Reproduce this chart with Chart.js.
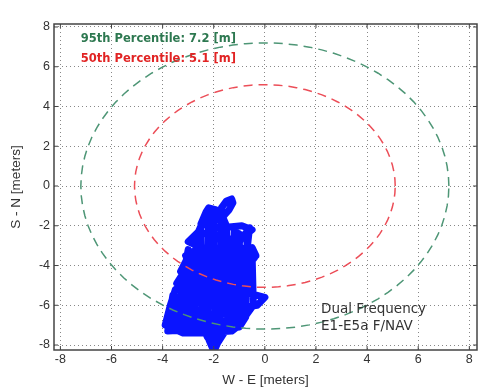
<!DOCTYPE html>
<html lang="en">
<head>
    <meta charset="UTF-8">
    <title>Horizontal position error</title>
    <script src="https://cdn.jsdelivr.net/npm/chart.js"></script>
    <style>
        body { margin: 0; background: #fff; }
        #wrap { width: 504px; height: 392px; }
    </style>
</head>
<body>
    <div id="wrap"><canvas id="chart" width="504" height="392"></canvas></div>

    <script>
        // Tick values shared by both axes
        const tickValues = [-8, -6, -4, -2, 0, 2, 4, 6, 8];

        // Percentile radii [m]
        const p95Radius = 7.2;
        const p50Radius = 5.1;

        // Horizontal position track (W-E, S-N) in meters
        const trackX = [-2.0, -2.2, -1.6, -1.9, -2.3, -3.8, -3.7, -3.0, -2.2, -1.0,
                        -0.8, -1.5, -2.6, -3.6, -3.5, -2.4, -1.3, -0.3, 0.0, -0.6,
                        -1.6, -2.8, -3.45, -3.2, -2.2, -1.2, -0.7, -0.8, -1.8, -2.9,
                        -3.1, -2.2, -1.2, -0.35, -0.5, -1.4, -2.5, -3.0, -2.6, -1.8,
                        -1.0, -0.5, -0.9, -1.7, -2.5, -2.3, -2.2, -1.9, -1.8, -1.6,
                        -1.7, -1.5, -1.3, -1.25, -1.4, -1.65, -1.5, -2.0, -2.2, -2.7,
                        -3.0, -3.3, -2.9, -2.5, -2.0, -1.6, -1.1, -1.3, -1.5, -1.9,
                        -2.1, -1.7, -1.2, -0.9, -1.0, -2.4, -2.8, -3.2, -3.4, -3.8,
                        -3.6, -3.55, -3.3, -3.25, -3.0, -2.95, -2.75, -2.7, -2.5, -2.45,
                        -2.25, -2.2, -2.0, -1.95, -1.75, -1.7, -1.5, -1.45, -1.25, -1.2,
                        -1.0, -0.95, -0.75, -0.7, -0.5, -0.45, -0.9, -1.6, -2.3, -3.1,
                        -3.7, -3.2, -2.4, -1.6, -0.9, -0.6, -1.1, -0.4, -0.9, -0.6,
                        -1.0, -1.9, -2.9, -3.3, -3.0, -3.5, -3.7, -3.9, -3.2, -2.5,
                        -1.3, -0.9];
        const trackY = [-8.3, -7.7, -7.4, -8.0, -7.2, -7.3, -6.6, -7.0, -7.3, -7.1,
                        -6.7, -6.8, -6.6, -6.2, -5.6, -5.9, -6.2, -6.0, -5.6, -5.4,
                        -5.6, -5.3, -4.9, -4.4, -4.7, -5.0, -4.6, -4.1, -4.2, -4.0,
                        -3.5, -3.6, -3.7, -3.5, -3.1, -3.2, -3.1, -2.8, -2.3, -2.6,
                        -2.7, -2.2, -2.0, -2.1, -1.9, -1.3, -1.1, -1.2, -1.7, -1.5,
                        -1.1, -0.75, -0.65, -0.85, -1.2, -1.55, -2.0, -2.8, -3.8, -4.8,
                        -5.9, -6.9, -7.3, -6.2, -5.0, -3.9, -2.5, -3.3, -4.6, -6.0,
                        -7.0, -7.3, -6.5, -5.3, -4.3, -4.2, -3.6, -5.4, -6.5, -7.1,
                        -5.5, -7.2, -6.9, -4.9, -3.2, -7.3, -7.2, -2.6, -2.0, -7.0,
                        -7.6, -1.2, -1.2, -8.2, -7.6, -1.5, -2.0, -7.2, -7.0, -2.3,
                        -2.4, -7.0, -6.6, -2.9, -3.4, -6.0, -6.8, -6.4, -6.9, -6.6,
                        -6.9, -5.2, -5.6, -4.9, -5.5, -2.1, -3.0, -3.6, -4.4, -4.9,
                        -5.2, -3.4, -3.3, -4.3, -4.8, -5.2, -6.0, -7.0, -7.4, -7.4,
                        -7.3, -6.9];

        function ring(r) {
            const pts = [];
            for (let a = 0; a <= 360; a += 4) {
                const t = a * Math.PI / 180;
                pts.push({ x: r * Math.cos(t), y: r * Math.sin(t) });
            }
            return pts;
        }

        const green = 'rgb(78,150,118)';
        const red = 'rgb(236,78,88)';

        // Box, inner ticks and the text notes
        const framePlugin = {
            id: 'frame',
            afterDraw(chart) {
                const { ctx, chartArea: a, scales } = chart;
                const xs = scales.x, ys = scales.y;
                ctx.save();
                ctx.strokeStyle = '#444';
                ctx.lineWidth = 1.5;
                ctx.strokeRect(a.left, a.top, a.right - a.left, a.bottom - a.top);
                ctx.lineWidth = 1;
                ctx.beginPath();
                tickValues.forEach(v => {
                    const px = xs.getPixelForValue(v);
                    ctx.moveTo(px, a.bottom); ctx.lineTo(px, a.bottom - 4);
                    ctx.moveTo(px, a.top); ctx.lineTo(px, a.top + 4);
                    const py = ys.getPixelForValue(v);
                    ctx.moveTo(a.left, py); ctx.lineTo(a.left + 4, py);
                    ctx.moveTo(a.right, py); ctx.lineTo(a.right - 4, py);
                });
                ctx.stroke();

                ctx.textBaseline = 'middle';
                ctx.textAlign = 'left';
                ctx.font = 'bold 11.5px "DejaVu Sans"';
                ctx.fillStyle = 'rgb(45,120,80)';
                ctx.fillText('95th Percentile: ' + p95Radius + ' [m]', xs.getPixelForValue(-7.2), ys.getPixelForValue(7.4));
                ctx.fillStyle = 'rgb(225,35,35)';
                ctx.fillText('50th Percentile: ' + p50Radius + ' [m]', xs.getPixelForValue(-7.2), ys.getPixelForValue(6.4));

                ctx.font = '13.5px "DejaVu Sans"';
                ctx.fillStyle = '#333';
                ctx.fillText('Dual Frequency', xs.getPixelForValue(2.2), ys.getPixelForValue(-6.2));
                ctx.fillText('E1-E5a F/NAV', xs.getPixelForValue(2.2), ys.getPixelForValue(-7.05));
                ctx.restore();
            }
        };

        const ctx = document.getElementById('chart').getContext('2d');
        new Chart(ctx, {
            type: 'scatter',
            data: {
                datasets: [{
                    label: '95th Percentile',
                    data: ring(p95Radius),
                    showLine: true,
                    borderColor: green,
                    borderWidth: 1.5,
                    borderDash: [9, 6],
                    pointRadius: 0,
                    order: 1
                },
                {
                    label: '50th Percentile',
                    data: ring(p50Radius),
                    showLine: true,
                    borderColor: red,
                    borderWidth: 1.5,
                    borderDash: [9, 6],
                    pointRadius: 0,
                    order: 1
                },
                {
                    label: 'Track',
                    data: trackX.map((x, i) => ({ x, y: trackY[i] })),
                    showLine: true,
                    borderColor: 'rgb(10,20,255)',
                    borderWidth: 7,
                    borderJoinStyle: 'round',
                    borderCapStyle: 'round',
                    pointRadius: 0,
                    order: 3
                }]
            },
            options: {
                responsive: false,
                animation: false,
                layout: { padding: { top: 24, right: 27, left: 0, bottom: 0 } },
                plugins: { legend: { display: false }, tooltip: { enabled: false } },
                scales: {
                    x: {
                        type: 'linear',
                        min: -8.25,
                        max: 8.3,
                        afterBuildTicks: s => { s.ticks = tickValues.map(v => ({ value: v })); },
                        afterFit: s => { s.height = 42; },
                        ticks: { color: '#333', font: { family: 'Arial', size: 12.5 }, padding: 2, maxRotation: 0 },
                        grid: { color: '#888', lineWidth: 1, drawTicks: false },
                        border: { display: false, dash: [1, 3] },
                        title: { display: true, text: 'W - E [meters]', color: '#333', font: { family: 'Arial', size: 13.5 }, padding: { top: 2 } }
                    },
                    y: {
                        type: 'linear',
                        min: -8.25,
                        max: 8.15,
                        afterBuildTicks: s => { s.ticks = tickValues.map(v => ({ value: v })); },
                        afterFit: s => { s.width = 54; },
                        ticks: { color: '#333', font: { family: 'Arial', size: 12.5 }, padding: 4 },
                        grid: { color: '#888', lineWidth: 1, drawTicks: false },
                        border: { display: false, dash: [1, 3] },
                        title: { display: true, text: 'S - N [meters]', color: '#333', font: { family: 'Arial', size: 13.5 }, padding: { top: 8 } }
                    }
                }
            },
            plugins: [framePlugin]
        });
    </script>
</body>
</html>
